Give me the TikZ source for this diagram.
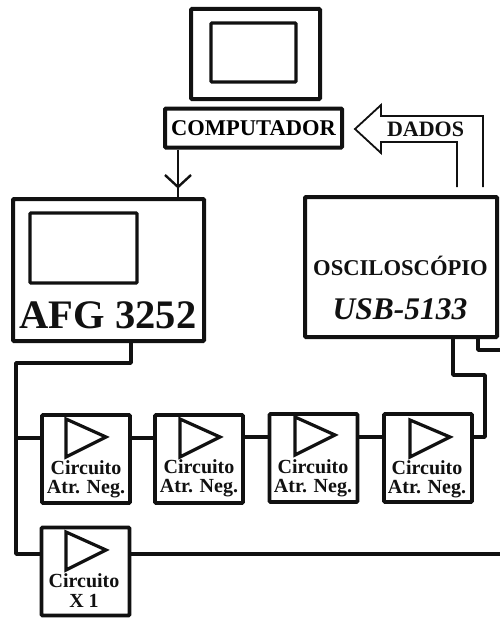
\documentclass[tikz,border=0pt]{standalone}
\usepackage{fontspec}
\setmainfont{Liberation Serif}
\usetikzlibrary{positioning}
\definecolor{DiagInk}{HTML}{111111}

\begin{document}
\begin{tikzpicture}[x=1pt,y=-1pt,
  frame/.style={draw=DiagInk, line width=4pt, rounded corners=1pt, fill=white, inner sep=0pt},
  amp/.style={frame, line width=3.6pt, minimum width=88pt, minimum height=88pt},
  wire/.style={draw=DiagInk, line width=3.6pt, line join=round},
  thinwire/.style={draw=DiagInk, line width=1.8pt},
  tri/.style={draw=DiagInk, line width=3.2pt, line join=miter},
  amptext/.style={font=\bfseries\fontsize{20}{22}\selectfont, text=DiagInk, align=center, inner sep=0pt}]
  \useasboundingbox (0,0) rectangle (500,618);
  % monitor
  \node[frame, anchor=north west, minimum width=129pt, minimum height=90pt] (monitor) at (189,7) {};
  \node[frame, line width=3.4pt, minimum width=85pt, minimum height=59pt] (tela) at (253.5,52.5) {};
  \node[frame, minimum width=177pt, minimum height=39pt, font=\bfseries\fontsize{22.5}{24}\selectfont] (comp) at (253.5,128) {COMPUTADOR};
  % gerador
  \node[frame, minimum width=191pt, minimum height=142pt] (afg) at (108.5,270) {};
  \node[frame, line width=3.4pt, minimum width=107pt, minimum height=70pt] (afgtela) at (83.5,248) {};
  \node[font=\bfseries\fontsize{40.5}{42}\selectfont, text=DiagInk] (afgtxt) at (108,315) {AFG 3252};
  % osciloscopio
  \node[frame, minimum width=192pt, minimum height=140pt] (osc) at (401,267) {};
  \node[font=\bfseries\fontsize{22.6}{25}\selectfont, text=DiagInk] (osctxt) at (400.5,266) {OSCILOSCÓPIO};
  \node[font=\bfseries\itshape\fontsize{31.5}{33}\selectfont, text=DiagInk] (usbtxt) at (400,309) {USB-5133};
  % circuitos
  \node[amp] (c1) at (86,459) {};
  \node[amp] (c2) at (199,459) {};
  \node[amp] (c3) at (313.5,458) {};
  \node[amp] (c4) at (428,458) {};
  \node[amp] (cx) at (85.5,571.5) {};
  \foreach \n/\tx/\ty in {c1/86/468, c2/199/467, c3/313/467, c4/427/468, cx/84/581}
    \node[amptext] (\n txt) at (\tx,\ty) {Circuito};
  \foreach \n/\tx/\ty/\lb in {c1/86/489/Atr. Neg., c2/199/488/Atr. Neg., c3/313/488/Atr. Neg., c4/427/489/Atr. Neg., cx/84/601/X 1}
    \node[amptext] (\n lb) at (\tx,\ty) {\lb};
  \draw[tri] (66,419) -- (66,457) -- (106,437) -- cycle;
  \draw[tri] (180,419) -- (180,457) -- (220,437) -- cycle;
  \draw[tri] (295,417) -- (295,455) -- (335,435) -- cycle;
  \draw[tri] (410,420) -- (410,457) -- (450,437) -- cycle;
  \draw[tri] (66,532) -- (66,570) -- (106,550) -- cycle;
  % ligacoes
  \coordinate (saida) at (500,554);
  \coordinate (saida2) at (500,350);
  \draw[wire] (131,341) -- (131,363) -- (16,363) -- (16,554) -- (cx.west |- 0,554);
  \draw[wire] (16,438) -- (c1.west |- 0,438);
  \draw[wire] (c1.east |- 0,438) -- (c2.west |- 0,438);
  \draw[wire] (c2.east |- 0,437) -- (c3.west |- 0,437);
  \draw[wire] (c3.east |- 0,437) -- (c4.west |- 0,437);
  \draw[wire] (c4.east |- 0,437) -- (485,437) -- (485,375) -- (453,375) -- (453,338);
  \draw[wire] (478,338) -- (478,350) -- (saida2);
  \draw[wire] (cx.east |- 0,554) -- (saida);
  \draw[thinwire, line width=2pt] (comp.south -| 178,0) -- (178,198);
  \draw[thinwire, line width=2.4pt] (165,175) -- (178,187) -- (191,175);
  % seta dados
  \draw[thinwire, line join=miter] (457,187) -- (457,142) -- (381,142) -- (381,153) -- (355,129) -- (381,105) -- (381,116) -- (483,116) -- (483,187);
  \node[font=\bfseries\fontsize{22}{24}\selectfont, text=DiagInk] (dados) at (425.5,129) {DADOS};
\end{tikzpicture}
\end{document}
